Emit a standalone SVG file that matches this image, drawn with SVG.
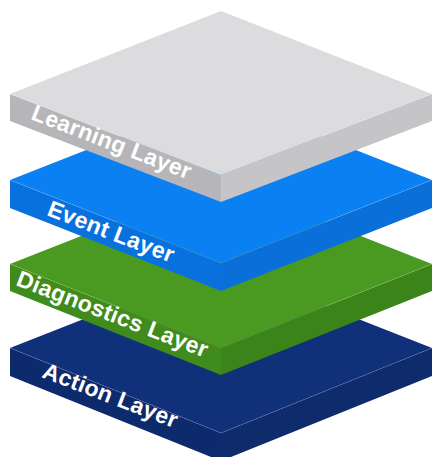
<svg xmlns="http://www.w3.org/2000/svg" width="432" height="457" viewBox="0 0 432 457">
<defs>
<style>
.lbl{font-family:"Liberation Sans",Arial,Helvetica,sans-serif;font-weight:bold;font-size:23px;letter-spacing:0.3px;fill:#ffffff}
.edge{stroke-width:0.6;stroke-opacity:0.2;stroke:#ffffff;fill:none}
</style>
</defs>
<rect width="432" height="457" fill="#ffffff"/>
<g id="action-layer">
<polygon points="10,348 221,433 221,461 10,376" fill="#0d2a6d"/>
<polygon points="221,433 432,348 432,376 221,461" fill="#0e2b6c"/>
<polygon points="221,265 432,348 221,433 10,348" fill="#11307a"/>
<polyline class="edge" points="10,348 221,433 432,348"/>
<text class="lbl" transform="translate(41,377) rotate(21)">Action Layer</text>
</g>
<g id="diagnostics-layer">
<polygon points="10,264 221,348 221,375 10,291" fill="#3f8c1c"/>
<polygon points="221,348 432,264 432,291 221,375" fill="#3b841a"/>
<polygon points="221,181 432,264 221,348 10,264" fill="#4a9a22"/>
<polyline class="edge" points="10,264 221,348 432,264"/>
<text class="lbl" transform="translate(15,285) rotate(21)">Diagnostics Layer</text>
</g>
<g id="event-layer">
<polygon points="10,180 221,263 221,291 10,208" fill="#0871de"/>
<polygon points="221,263 432,180 432,208 221,291" fill="#0a6fd8"/>
<polygon points="221,97 432,180 221,263 10,180" fill="#0b80f2"/>
<polyline class="edge" points="10,180 221,263 432,180"/>
<text class="lbl" transform="translate(46,215) rotate(21)">Event Layer</text>
</g>
<g id="learning-layer">
<polygon points="10,94 221,175 221,202 10,121" fill="#b6b6b8"/>
<polygon points="221,175 432,94 432,121 221,202" fill="#c5c5c7"/>
<polygon points="221,11 432,94 221,175 10,94" fill="#dcdcde"/>
<polyline class="edge" points="10,94 221,175 432,94"/>
<text class="lbl" transform="translate(30,119) rotate(21)">Learning Layer</text>
</g>
<g id="connectors"/>
</svg>
